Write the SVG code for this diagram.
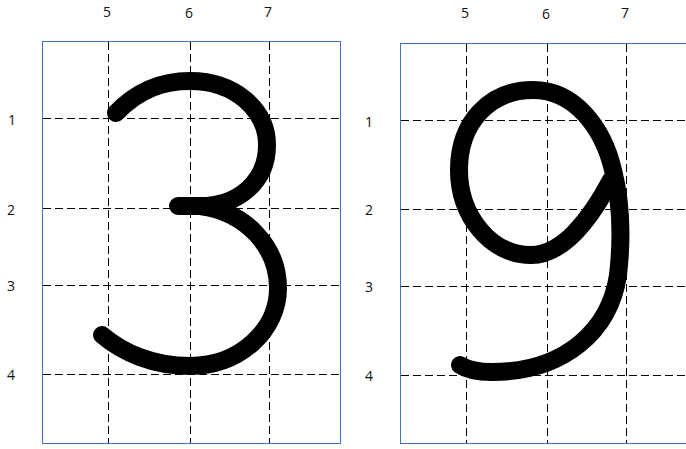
<svg xmlns="http://www.w3.org/2000/svg" width="686" height="449" viewBox="0 0 686 449">
<style>
.box{fill:#fff;stroke:#4472c4;stroke-width:1}
.grid{stroke:#000;stroke-width:1;stroke-dasharray:8 4;fill:none}
.lbl{font-family:"Open Sans","Liberation Sans",sans-serif;font-size:14px;fill:#111;text-anchor:middle;dominant-baseline:central}
.ink{fill:none;stroke:#000;stroke-width:18;stroke-linecap:round;stroke-linejoin:round}
</style>
<rect width="686" height="449" fill="#fff"/>
<g id="panel-3">
<rect class="box" x="42.5" y="41.5" width="298" height="402"/>
<g class="grid">
<line x1="108.5" y1="42" x2="108.5" y2="443"/>
<line x1="190.5" y1="42" x2="190.5" y2="443"/>
<line x1="269.5" y1="42" x2="269.5" y2="443"/>
<line x1="43" y1="118.5" x2="340" y2="118.5"/>
<line x1="43" y1="208.5" x2="340" y2="208.5"/>
<line x1="43" y1="285.5" x2="340" y2="285.5"/>
<line x1="43" y1="374.5" x2="340" y2="374.5"/>
</g>
<text class="lbl" x="107" y="11">5</text>
<text class="lbl" x="189" y="12">6</text>
<text class="lbl" x="268" y="11">7</text>
<text class="lbl" x="12" y="119">1</text>
<text class="lbl" x="11" y="209">2</text>
<text class="lbl" x="11" y="285">3</text>
<text class="lbl" x="11" y="374">4</text>
<path class="ink" d="M116,113 C140,88 165,81 190,81 C235,81 267,110 267,145 C267,182 238,206 200,206 L178,206"/>
<path class="ink" d="M200,206 C247,212 278,248 278,288 C278,330 240,366 190,366 C152,366 122,352 102,335"/>
</g>
<g id="panel-9">
<rect class="box" x="400.5" y="43.5" width="300" height="400"/>
<g class="grid">
<line x1="466.5" y1="44" x2="466.5" y2="443"/>
<line x1="547.5" y1="44" x2="547.5" y2="443"/>
<line x1="626.5" y1="44" x2="626.5" y2="443"/>
<line x1="401" y1="120.5" x2="686" y2="120.5"/>
<line x1="401" y1="209.5" x2="686" y2="209.5"/>
<line x1="401" y1="286.5" x2="686" y2="286.5"/>
<line x1="401" y1="375.5" x2="686" y2="375.5"/>
</g>
<text class="lbl" x="465" y="12">5</text>
<text class="lbl" x="546" y="13">6</text>
<text class="lbl" x="625" y="12">7</text>
<text class="lbl" x="369" y="121">1</text>
<text class="lbl" x="369" y="209">2</text>
<text class="lbl" x="369" y="286">3</text>
<text class="lbl" x="369" y="375">4</text>
<path class="ink" d="M611,180 C590,220 562,255 531,255 C490,255 459,215 459,170 C459,122 490,90 533,90 C575,90 603,128 613,170 C622,205 622,240 618,275 C610,330 565,372 492,372 C476,372 466,369 460,365"/>
</g>
</svg>
